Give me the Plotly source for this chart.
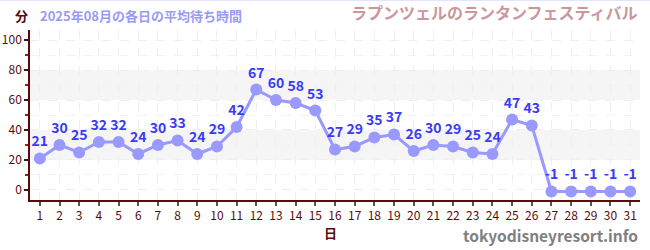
import plotly.graph_objects as go

days = list(range(1, 32))
waits = [21, 30, 25, 32, 32, 24, 30, 33, 24, 29, 42, 67, 60, 58, 53, 27, 29, 35, 37, 26,
         30, 29, 25, 24, 47, 43, -1, -1, -1, -1, -1]
x_ticks = [str(d) for d in days]
y_ticks = [0, 20, 40, 60, 80, 100]
bands = [(20, 40), (60, 80)]

title_left = "2025年08月の各日の平均待ち時間"
title_right = "ラプンツェルのランタンフェスティバル"
y_title = "分"
x_title = "日"
watermark = "tokyodisneyresort.info"

FONT = "Noto Sans CJK JP"
AX = "#5a0a0a"

fig = go.Figure()
fig.add_trace(go.Scatter(
    x=days, y=waits, mode="lines+markers+text",
    line=dict(color="#9999ff", width=3),
    marker=dict(color="#9999ff", size=12),
    text=[str(v) for v in waits], textposition="top center",
    textfont=dict(family=FONT, size=14, color="#3b3bf5", weight="bold"),
    cliponaxis=False, showlegend=False,
))

shapes = []
for lo, hi in bands:
    shapes.append(dict(type="rect", xref="paper", yref="y", x0=0, x1=1, y0=lo, y1=hi,
                       fillcolor="#f5f5f5", line=dict(width=0), layer="below"))
shapes.append(dict(type="line", xref="paper", yref="paper", x0=-0.1, x1=1.1,
                   y0=1 + 29.5 / 170, y1=1 + 29.5 / 170, line=dict(color="#e4e4fb", width=1)))
fig.update_layout(
    width=650, height=250,
    margin=dict(l=30, r=10, t=30, b=50),
    paper_bgcolor="white", plot_bgcolor="white",
    font=dict(family=FONT, color=AX),
    shapes=shapes,
    xaxis=dict(range=[0.5, 31.5], tickmode="array", tickvals=days, ticktext=x_ticks,
               showline=True, linecolor=AX, linewidth=1.5,
               ticks="outside", ticklen=4, tickcolor="#555", tickwidth=1.5,
               tickfont=dict(family=FONT, size=12, color=AX),
               showgrid=True, gridcolor="#efefef", griddash="dash", gridwidth=1,
               zeroline=False, fixedrange=True, automargin=False),
    yaxis=dict(range=[-6.7, 106.7], tickmode="array", tickvals=y_ticks,
               showline=True, linecolor=AX, linewidth=1.5,
               ticks="outside", ticklen=4, tickcolor="#222", tickwidth=1.5,
               tickfont=dict(family=FONT, size=12, color=AX),
               showgrid=True, gridcolor="#efefef", griddash="dash", gridwidth=1,
               minor=dict(tickvals=[10, 30, 50, 70, 90], ticks="outside", ticklen=3,
                          tickcolor="#e00000", showgrid=True, gridcolor="#f3f3f3",
                          griddash="dash"),
               zeroline=False, fixedrange=True, automargin=False),
    annotations=[
        dict(text=y_title, xref="paper", yref="paper", x=-0.0, y=1 + 15 / 170,
             xanchor="right", yanchor="middle", showarrow=False,
             font=dict(family=FONT, size=13, color=AX, weight="bold")),
        dict(text=title_left, xref="paper", yref="paper", x=8 / 610, y=1 + 15 / 170,
             xanchor="left", yanchor="middle", showarrow=False,
             font=dict(family=FONT, size=13, color="#9a9af5", weight="bold")),
        dict(text=title_right, xref="paper", yref="paper", x=1.0, y=1 + 18 / 170,
             xanchor="right", yanchor="middle", showarrow=False,
             font=dict(family=FONT, size=16, color="#c9989c", weight="bold")),
        dict(text=x_title, xref="paper", yref="paper", x=300 / 610, y=-32 / 170,
             xanchor="center", yanchor="middle", showarrow=False,
             font=dict(family=FONT, size=13, color=AX, weight="bold")),
        dict(text=watermark, xref="paper", yref="paper", x=1.0, y=-35 / 170,
             xanchor="right", yanchor="middle", showarrow=False,
             font=dict(family=FONT, size=15.5, color="#808080", weight="bold")),
    ],
)
fig.write_html("out.html")
